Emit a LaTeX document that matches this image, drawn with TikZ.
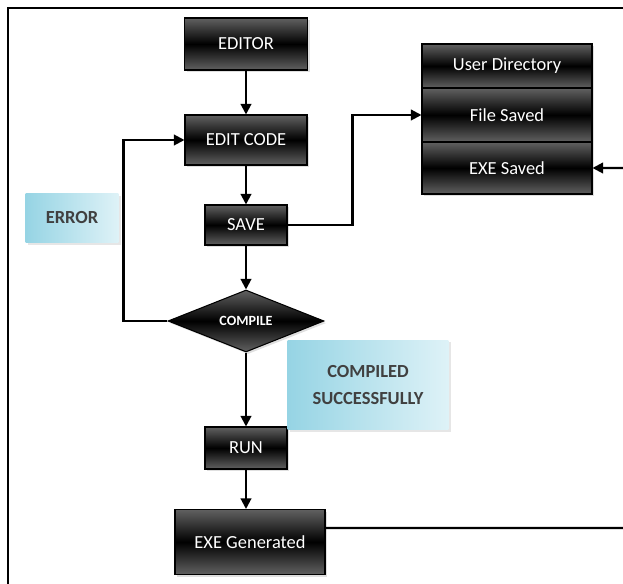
\documentclass[tikz,border=0pt]{standalone}
\usepackage{fontspec}
\setmainfont{Carlito}
\usetikzlibrary{shapes.geometric,arrows.meta,shadows}
\definecolor{notedark}{RGB}{150,212,228}
\definecolor{notelight}{RGB}{222,242,247}

\begin{document}
\begin{tikzpicture}[x=0.02cm,y=-0.02cm]
\tikzstyle{every node}=[font=\fontsize{10.5}{12}\selectfont]
\tikzstyle{darkbox}=[draw=black, line width=0.6pt, text=white, inner sep=0pt,
  top color=black!62, bottom color=black!62, middle color=black,
  drop shadow={opacity=0.25, shadow xshift=1.2pt, shadow yshift=-1.2pt}]
\tikzstyle{notebox}=[inner sep=0pt, text=black!75, font=\fontsize{10.5}{13}\selectfont\bfseries, align=center,
  left color=notedark, right color=notelight,
  drop shadow={opacity=0.2, shadow xshift=1.2pt, shadow yshift=-1.2pt}]
\tikzstyle{flow}=[line width=1.2pt, -{Triangle[length=6pt,width=6pt]}]

\useasboundingbox (0,0) rectangle (623,584);
\clip (0,0) rectangle (623,584);
\draw[line width=1.2pt] (8,8) rectangle (700,700);

\node[darkbox, minimum width=2.46cm, minimum height=1.04cm] (editor) at (246,44) {EDITOR};
\node[darkbox, minimum width=2.44cm, minimum height=1.0cm] (editcode) at (246,140) {EDIT CODE};
\node[darkbox, minimum width=1.64cm, minimum height=0.8cm] (save) at (246,225) {SAVE};
\node[darkbox, diamond, aspect=2.5, minimum width=3.12cm, minimum height=1.24cm,
  font=\fontsize{8}{10}\selectfont\bfseries] (compile) at (246,321) {COMPILE};
\node[darkbox, minimum width=1.64cm, minimum height=0.84cm] (run) at (246,448) {RUN};
\node[darkbox, minimum width=3.0cm, minimum height=1.3cm] (exegen) at (250,542) {EXE Generated};

\node[notebox, minimum width=1.86cm, minimum height=0.98cm] (error) at (72,218) {ERROR};
\node[notebox, minimum width=3.22cm, minimum height=1.8cm] (compiled) at (368,385) {COMPILED\\[2pt]SUCCESSFULLY};

\node[darkbox, minimum width=3.4cm, minimum height=0.88cm] (userdir) at (507,66) {User Directory};
\node[darkbox, minimum width=3.4cm, minimum height=1.08cm] (filesaved) at (507,115) {File Saved};
\node[darkbox, minimum width=3.4cm, minimum height=1.04cm] (exesaved) at (507,168) {EXE Saved};

\draw[flow] (editor) -- (editcode);
\draw[flow] (editcode) -- (save);
\draw[flow] (save) -- (compile);
\draw[flow] (compile) -- (run);
\draw[flow] (run) -- (run |- exegen.north);
\draw[flow] (compile.west) -- ++(-44,0) |- (editcode.west);
\draw[flow] (save.east) -- ++(65,0) |- (filesaved.west);
\draw[flow] ([yshift=0.28cm]exegen.east) -- (660,528) |- (exesaved.east);

\end{tikzpicture}
\end{document}
